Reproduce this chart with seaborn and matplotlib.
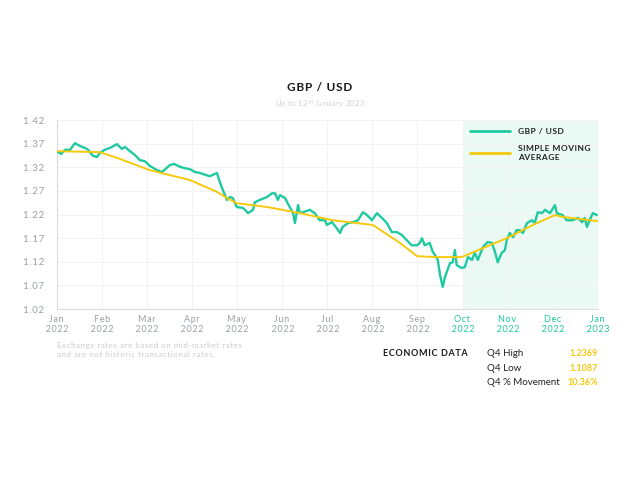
import pandas as pd
import matplotlib.pyplot as plt
import seaborn as sns

# x positions are in months from 1 Jan 2022 (12 = 1 Jan 2023)
rate_pos = [0.00, 0.09, 0.18, 0.29, 0.40, 0.51, 0.62, 0.69, 0.80, 0.89, 0.95, 1.06, 1.18, 1.33,
            1.44, 1.51, 1.62, 1.73, 1.84, 1.95, 2.06, 2.22, 2.33, 2.51, 2.60, 2.73, 2.84, 2.95,
            3.06, 3.17, 3.39, 3.55, 3.62, 3.68, 3.77, 3.84, 3.90, 3.99, 4.13, 4.24, 4.35, 4.39,
            4.50, 4.66, 4.77, 4.84, 4.90, 4.95, 5.06, 5.12, 5.24, 5.28, 5.35, 5.39, 5.46, 5.61,
            5.72, 5.83, 5.95, 5.99, 6.10, 6.21, 6.28, 6.34, 6.46, 6.57, 6.68, 6.79, 6.88, 6.99,
            7.10, 7.21, 7.32, 7.43, 7.54, 7.65, 7.76, 7.87, 7.99, 8.05, 8.10, 8.16, 8.27, 8.34,
            8.39, 8.45, 8.50, 8.56, 8.61, 8.72, 8.78, 8.83, 8.87, 8.98, 9.05, 9.12, 9.21, 9.27,
            9.34, 9.45, 9.56, 9.65, 9.72, 9.78, 9.87, 9.94, 9.98, 10.05, 10.12, 10.20, 10.27,
            10.34, 10.43, 10.54, 10.60, 10.67, 10.76, 10.83, 10.94, 11.05, 11.09, 11.22, 11.31,
            11.45, 11.56, 11.65, 11.71, 11.76, 11.82, 11.89, 11.98]
rate_val = [1.354, 1.348, 1.357, 1.357, 1.371, 1.365, 1.361, 1.357, 1.344, 1.342, 1.350, 1.357,
            1.361, 1.369, 1.359, 1.363, 1.354, 1.346, 1.335, 1.333, 1.323, 1.314, 1.310, 1.325,
            1.327, 1.321, 1.318, 1.316, 1.310, 1.308, 1.301, 1.308, 1.287, 1.272, 1.251, 1.257,
            1.255, 1.236, 1.234, 1.223, 1.230, 1.246, 1.251, 1.257, 1.265, 1.265, 1.251, 1.261,
            1.255, 1.244, 1.223, 1.202, 1.240, 1.223, 1.225, 1.230, 1.223, 1.208, 1.208, 1.198,
            1.204, 1.191, 1.181, 1.194, 1.202, 1.204, 1.208, 1.225, 1.219, 1.208, 1.223, 1.213,
            1.202, 1.183, 1.183, 1.177, 1.166, 1.155, 1.155, 1.160, 1.170, 1.155, 1.160, 1.141,
            1.134, 1.124, 1.092, 1.067, 1.088, 1.117, 1.119, 1.145, 1.113, 1.107, 1.109, 1.130,
            1.124, 1.139, 1.124, 1.151, 1.162, 1.160, 1.141, 1.119, 1.139, 1.145, 1.166, 1.181,
            1.172, 1.187, 1.187, 1.181, 1.202, 1.208, 1.202, 1.225, 1.223, 1.230, 1.223, 1.240,
            1.223, 1.219, 1.208, 1.208, 1.213, 1.204, 1.213, 1.194, 1.208, 1.223, 1.219]

sma_pos = [0.00, 0.95, 1.33, 2.06, 2.95, 3.55, 3.77, 3.99, 4.66, 5.39, 6.12, 7.01, 7.61,
           7.99, 8.43, 8.98, 9.45, 9.98, 10.56, 11.05, 11.22, 12.00]
sma_val = [1.354, 1.352, 1.340, 1.314, 1.293, 1.268, 1.255, 1.244, 1.236, 1.223, 1.208, 1.198,
           1.160, 1.132, 1.130, 1.130, 1.149, 1.170, 1.198, 1.219, 1.215, 1.206]

month_labels = ['Jan\n2022', 'Feb\n2022', 'Mar\n2022', 'Apr\n2022', 'May\n2022', 'Jun\n2022',
                'Jul\n2022', 'Aug\n2022', 'Sep\n2022', 'Oct\n2022', 'Nov\n2022', 'Dec\n2022',
                'Jan\n2023']
y_ticks = [1.02, 1.07, 1.12, 1.17, 1.22, 1.27, 1.32, 1.37, 1.42]

econ_labels = ['Q4 High', 'Q4 Low', 'Q4 % Movement']
econ_values = ['1.2369', '1.1087', '10.36%']

GREEN = '#1fcaa0'
YELLOW = '#f6c90e'
GREY = '#9a9fa6'
HS = '\u200a'  # hair space, used for letter spacing


def spaced(s):
    return HS.join(s)


sns.set_style('white')
plt.rcParams['font.family'] = ['Lato', 'DejaVu Sans']

fig = plt.figure(figsize=(6.4, 4.8), dpi=100)
ax = fig.add_axes([0.089, 0.356, 0.845, 0.394])

rate_df = pd.DataFrame({'month': rate_pos, 'rate': rate_val})
sma_df = pd.DataFrame({'month': sma_pos, 'rate': sma_val})

# Q4 highlight
ax.axvspan(9, 12, color='#ebfaf5', lw=0, zorder=0)

sns.lineplot(data=rate_df, x='month', y='rate', color=GREEN, lw=1.7,
             label=spaced('GBP / USD'), ax=ax, zorder=3)
sns.lineplot(data=sma_df, x='month', y='rate', color=YELLOW, lw=1.4,
             label=spaced('SIMPLE MOVING') + '\n' + spaced('AVERAGE'), ax=ax, zorder=4)

ax.set_xlim(0, 12)
ax.set_ylim(1.02, 1.42)
ax.set_xticks(range(13))
ax.set_xticklabels([spaced(m) for m in month_labels], fontsize=6.5, color=GREY, linespacing=1.1)
for lbl in ax.get_xticklabels()[9:]:
    lbl.set_color(GREEN)
ax.set_yticks(y_ticks)
ax.set_yticklabels([spaced(f'{v:.2f}') for v in y_ticks], fontsize=7, color=GREY)
ax.tick_params(axis='x', length=3, color='#dddddd', pad=1.5)
ax.tick_params(axis='y', length=0, pad=9)
ax.set_xlabel('')
ax.set_ylabel('')
ax.grid(True, color='#f2f2f2', lw=0.8)
for side in ['top', 'right']:
    ax.spines[side].set_visible(False)
for side in ['left', 'bottom']:
    ax.spines[side].set_color('#dcdcdc')
    ax.spines[side].set_linewidth(0.8)

leg = ax.legend(loc='upper left', bbox_to_anchor=(0.75, 1.0), frameon=False,
                handlelength=4.8, handletextpad=0.9, labelspacing=1.3,
                prop={'size': 6, 'weight': 'bold'})
for t in leg.get_texts():
    t.set_color('#222222')
for h in leg.get_lines():
    h.set_linewidth(2)

# titles
fig.text(0.5, 0.817, spaced('GBP / USD'), ha='center', va='center', fontsize=8.5,
         fontweight='bold', color='#1a1a1a')
fig.text(0.5, 0.783, spaced('Up to 12') + '$^{th}$ ' + spaced('January 2023'), ha='center',
         va='center', fontsize=5.3, color='#d0d0d0')

# footnote
fig.text(0.089, 0.288, spaced('Exchange rates are based on mid-market rates') + '\n'
         + spaced('and are not historic transactional rates.'),
         ha='left', va='top', fontsize=5.8, color='#cccccc', linespacing=1.4)

# economic data block
fig.text(0.598, 0.2625, spaced('ECONOMIC DATA'), ha='left', va='center', fontsize=6.5,
         fontweight='bold', color='#1a1a1a')
for i, (lab, val) in enumerate(zip(econ_labels, econ_values)):
    y = 0.2625 - i * 0.0292
    fig.text(0.761, y, lab, ha='left', va='center', fontsize=7, color='#222222')
    fig.text(0.934, y, val, ha='right', va='center', fontsize=6.5, fontweight='bold',
             color=YELLOW)

fig.savefig('out.png', dpi=100)
